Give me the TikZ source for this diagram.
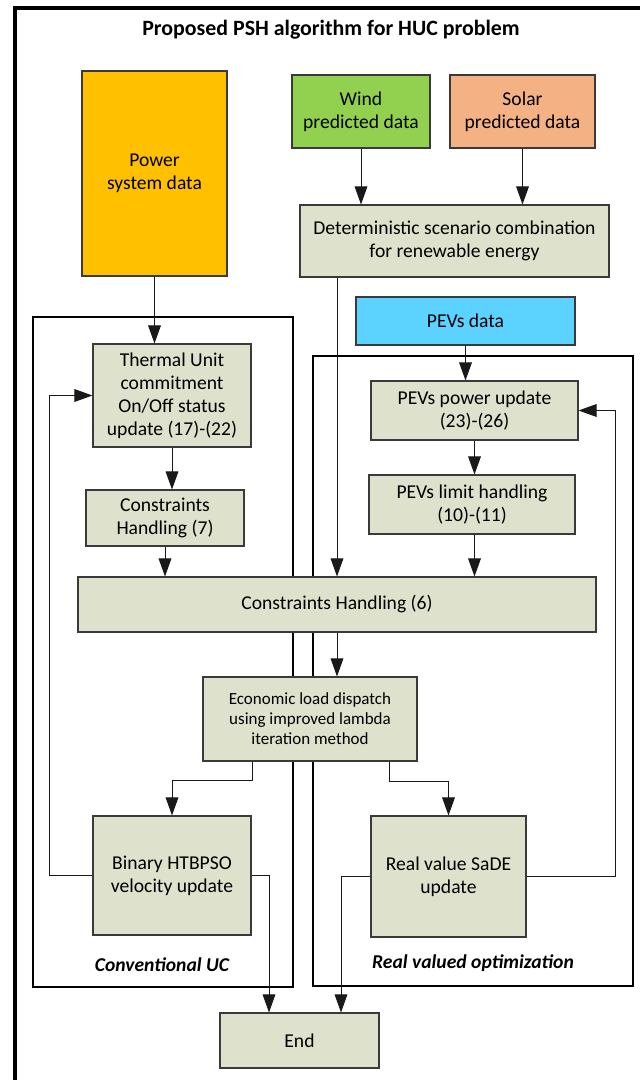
\documentclass[tikz,border=0pt]{standalone}
\usepackage{fontspec}
\setmainfont{Carlito}
\usetikzlibrary{arrows.meta,calc}
\definecolor{boxg}{HTML}{DEE2CC}
\definecolor{pwr}{HTML}{FFC000}
\definecolor{wnd}{HTML}{92D050}
\definecolor{sol}{HTML}{F4B183}
\definecolor{pev}{HTML}{5BD2FF}
\definecolor{edge}{HTML}{3A3A3A}
\tikzset{
  blk/.style={draw=edge, line width=0.8pt, align=center, inner sep=0pt,
    font=\fontsize{14.7}{17.25}\selectfont},
  proc/.style={blk, fill=boxg},
  arr/.style={draw=black!90, line width=0.75pt, -{Triangle[length=13.5pt,width=9.5pt]}},
  grp/.style={draw=black, line width=1.2pt},
  lbl/.style={font=\fontsize{14.7}{17}\selectfont\bfseries\itshape},
}
\begin{document}
\begin{tikzpicture}[x=0.75pt,y=-0.75pt]
\useasboundingbox (0,0) rectangle (639,1080);
% outer frame
\draw[line width=3pt] (14.5,1095) -- (14.5,8.5) -- (660,8.5);
\node[font=\fontsize{16.4}{19}\selectfont\bfseries] (title) at (331,30) {Proposed PSH algorithm for HUC problem};
% group boxes
\draw[grp] (33,317) rectangle (293,987);
\draw[grp] (313,356) rectangle (633,986);
\node[lbl] (lconv) at (162,965) {Conventional UC};
\node[lbl] (lreal) at (473,963) {Real valued optimization};
% input boxes
\node[blk, fill=pwr, minimum width=108.75pt, minimum height=153.75pt] (power) at (154.5,173.5) {Power\\system data};
\node[blk, fill=wnd, minimum width=103.5pt, minimum height=54.75pt] (wind) at (361,111.5) {Wind\\predicted data};
\node[blk, fill=sol, minimum width=108.75pt, minimum height=54.75pt] (solar) at (522.5,111.5) {Solar\\predicted data};
\node[proc, minimum width=231.75pt, minimum height=54pt] (det) at (454.5,241) {Deterministic scenario combination\\for renewable energy};
\node[blk, fill=pev, minimum width=164.25pt, minimum height=36pt] (pevs) at (465.5,321) {PEVs data};
% processing boxes
\node[proc, minimum width=118.5pt, minimum height=77.25pt] (thermal) at (172,395.5) {Thermal Unit\\commitment\\On/Off status\\update (17)-(22)};
\node[proc, minimum width=118.5pt, minimum height=42pt] (c7) at (165,518) {Constraints\\Handling (7)};
\node[proc, minimum width=155.25pt, minimum height=44.25pt] (pp) at (474.5,410.5) {PEVs power update\\(23)-(26)};
\node[proc, minimum width=154.5pt, minimum height=44.25pt] (pl) at (472,504.5) {PEVs limit handling\\(10)-(11)};
\node[proc, minimum width=388.5pt, minimum height=41.25pt] (c6) at (337,604.5) {Constraints Handling (6)};
\node[proc, minimum width=160.5pt, minimum height=63pt, font=\fontsize{12.75}{15}\selectfont] (eld) at (310,719) {Economic load dispatch\\using improved lambda\\iteration method};
\node[proc, minimum width=118.5pt, minimum height=89.25pt] (bin) at (172,875.5) {Binary HTBPSO\\velocity update};
\node[proc, minimum width=116.25pt, minimum height=90.75pt] (real) at (448.5,876.5) {Real value SaDE\\update};
\node[proc, minimum width=119.25pt, minimum height=41.25pt] (end) at (299.5,1040.5) {End};
% connectors
\draw[arr] (wind.south) -- (wind.south |- det.north);
\draw[arr] (solar.south) -- (solar.south |- det.north);
\draw[arr] (power.south) -- (power.south |- thermal.north);
\draw[arr] (det.south -| c6.north) -- (c6.north);
\draw[arr] (pevs.south) -- (pevs.south |- pp.north);
\draw[arr] (thermal.south) -- (thermal.south |- c7.north);
\draw[arr] (c7.south) -- (c7.south |- c6.north);
\draw[arr] (pp.south) -- (pp.south |- pl.north);
\draw[arr] (pp.south |- pl.south) -- (pp.south |- c6.north);
\draw[arr] (c6.south) -- (c6.south |- eld.north);
\draw[arr] ($(eld.south)+(-58,0)$) -- ++(0,19) -| (bin.north);
\draw[arr] ($(eld.south)+(79,0)$) -- ++(0,20) -| (real.north);
\draw[arr] (bin.west) -- ++(-43,0) |- (thermal.west);
\draw[arr] (real.east) -- ++(89,0) |- (pp.east);
\draw[arr] (bin.east) -| ($(end.north)+(-30.5,0)$);
\draw[arr] (real.west) -| ($(end.north)+(41.5,0)$);
\end{tikzpicture}
\end{document}
